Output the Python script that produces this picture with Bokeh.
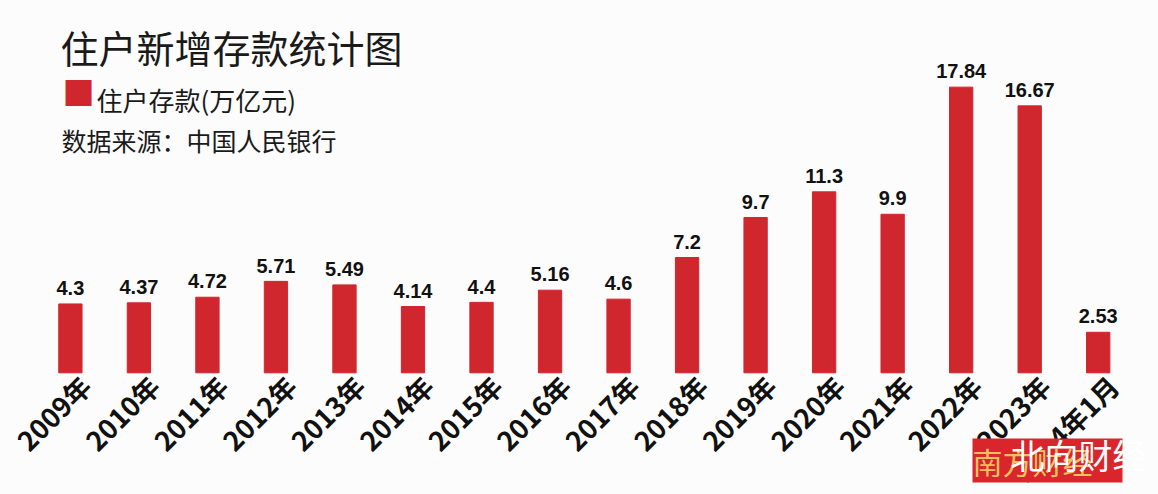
from bokeh.plotting import figure
from bokeh.models import Range1d, Label, ColumnDataSource
from bokeh.core.properties import value
from bokeh.embed import file_html
from bokeh.resources import INLINE
import math

categories = ["2009年", "2010年", "2011年", "2012年", "2013年", "2014年", "2015年", "2016年",
              "2017年", "2018年", "2019年", "2020年", "2021年", "2022年", "2023年", "2024年1月"]
deposits = [4.3, 4.37, 4.72, 5.71, 5.49, 4.14, 4.4, 5.16, 4.6, 7.2, 9.7, 11.3, 9.9, 17.84, 16.67, 2.53]
value_labels = ["4.3", "4.37", "4.72", "5.71", "5.49", "4.14", "4.4", "5.16", "4.6", "7.2", "9.7",
                "11.3", "9.9", "17.84", "16.67", "2.53"]

W, H = 1158, 494
BAR_COLOR = "#d0262e"
CJK = "Noto Sans CJK SC"
NUM_FONT = "Liberation Sans Narrow, Liberation Sans, sans-serif"

xs = list(range(len(categories)))
src = ColumnDataSource(dict(x=xs, top=deposits, lab=value_labels, cat=categories,
                            lx=[i + 0.22 for i in xs], ly=[-0.5] * len(xs),
                            vy=[d + 0.55 for d in deposits]))

p = figure(width=W, height=H, output_backend="svg", toolbar_location=None,
           x_range=Range1d(-1.02, 15.88), y_range=Range1d(-7.6, 23.25),
           min_border=0, outline_line_color=None, background_fill_color="#fcfcfc",
           border_fill_color="#fcfcfc")
p.axis.visible = False
p.grid.visible = False

p.vbar(x="x", top="top", bottom=0, width=0.34, source=src, fill_color=BAR_COLOR,
       line_color=BAR_COLOR)

p.text(x="x", y="vy", text="lab", source=src, text_align="center", text_baseline="bottom",
       text_font=value(NUM_FONT), text_font_style="bold", text_font_size="20px",
       text_color="#111111")

p.text(x="lx", y="ly", text="cat", source=src, angle=math.pi / 4, text_align="right",
       text_baseline="middle", text_font=value(CJK), text_font_style="bold",
       text_font_size="27px", text_color="#111111")

# Title and legend block
p.add_layout(Label(x=60, y=H - 18, x_units="screen", y_units="screen", text="住户新增存款统计图",
                   text_font=CJK, text_font_size="38px", text_color="#1a1a1a",
                   text_baseline="top"))
p.add_layout(Label(x=62, y=H - 89, x_units="screen", y_units="screen", text="■",
                   text_font="DejaVu Sans", text_font_size="34px", text_color=BAR_COLOR,
                   text_baseline="middle"))
p.add_layout(Label(x=96, y=H - 99, x_units="screen", y_units="screen", text="住户存款(万亿元)",
                   text_font=CJK, text_font_size="26px", text_color="#1a1a1a",
                   text_baseline="middle"))
p.add_layout(Label(x=61, y=H - 139, x_units="screen", y_units="screen", text="数据来源：中国人民银行",
                   text_font=CJK, text_font_size="25px", text_color="#1a1a1a",
                   text_baseline="middle"))

# Watermark banner
p.add_layout(Label(x=972, y=12, x_units="screen", y_units="screen", text="南方财经　",
                   text_font=CJK, text_font_size="30px", text_color="#f2c060",
                   background_fill_color="#d8262c", text_baseline="bottom"))
p.add_layout(Label(x=1010, y=16, x_units="screen", y_units="screen", text="北向财经",
                   text_font=CJK, text_font_size="34px", text_color="#ffffff",
                   text_baseline="bottom"))

open("out.html", "w").write(file_html(p, INLINE))
